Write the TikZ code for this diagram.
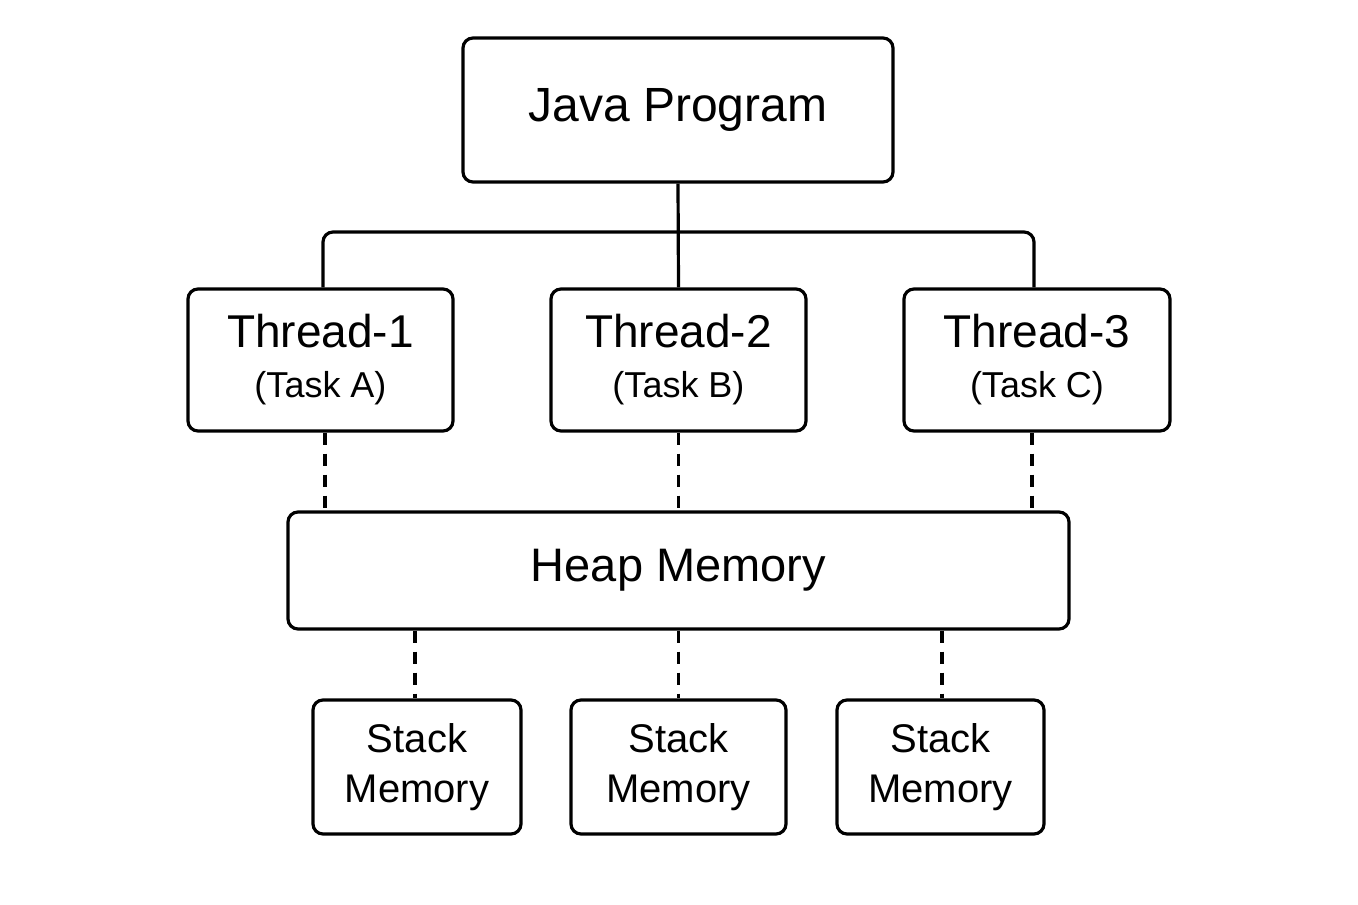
\documentclass[tikz,border=0pt]{standalone}
\usepackage{fontspec}
\setmainfont{Liberation Sans}
\begin{document}
\begin{tikzpicture}[x=1pt,y=-1pt,
  box/.style={draw,line width=3.2pt,rounded corners=10pt,inner sep=0pt,align=center},
  ln/.style={line width=3.2pt},
  dl/.style={line width=3.2pt,dash pattern=on 12pt off 9pt},
  th/.style={box,minimum height=142pt,font=\fontsize{36}{50}\selectfont}]
\useasboundingbox (0,0) rectangle (1358,905);
\node[box,minimum width=430pt,minimum height=144pt,font=\fontsize{48}{50}\selectfont] (jp) at (678,110) {Java Program};
\node[th,minimum width=265pt] (t1) at (320.5,360) {\fontsize{46}{50}\selectfont Thread-1\\(Task A)};
\node[th,minimum width=255pt] (t2) at (678.5,360) {\fontsize{46}{50}\selectfont Thread-2\\(Task B)};
\node[th,minimum width=266pt] (t3) at (1037,360) {\fontsize{46}{50}\selectfont Thread-3\\(Task C)};
\node[box,minimum width=781pt,minimum height=117pt,font=\fontsize{47}{50}\selectfont] (hp) at (678.5,570.5) {Heap Memory};
\node[box,minimum width=208pt,minimum height=134pt,font=\fontsize{40}{50}\selectfont] (s1) at (417,767) {Stack\\Memory};
\node[box,minimum width=215pt,minimum height=134pt,font=\fontsize{40}{50}\selectfont] (s2) at (678.5,767) {Stack\\Memory};
\node[box,minimum width=207pt,minimum height=134pt,font=\fontsize{40}{50}\selectfont] (s3) at (940.5,767) {Stack\\Memory};
\coordinate (hl) at (323,232);
\coordinate (hr) at (1034,232);
\draw[ln] (jp.south) -- (t2.north);
\draw[ln,rounded corners=10pt] (t1.north -| hl) -- (hl) -- (hr) -- (t3.north -| hr);
\draw[dl] (t1.south -| 325,0) -- (hp.north -| 325,0);
\draw[dl] (t2.south) -- (hp.north -| t2.south);
\draw[dl] (t3.south -| 1032,0) -- (hp.north -| 1032,0);
\draw[dl] (hp.south -| 415,0) -- (s1.north -| 415,0);
\draw[dl] (hp.south -| s2.north) -- (s2.north);
\draw[dl] (hp.south -| 942,0) -- (s3.north -| 942,0);
\end{tikzpicture}
\end{document}
